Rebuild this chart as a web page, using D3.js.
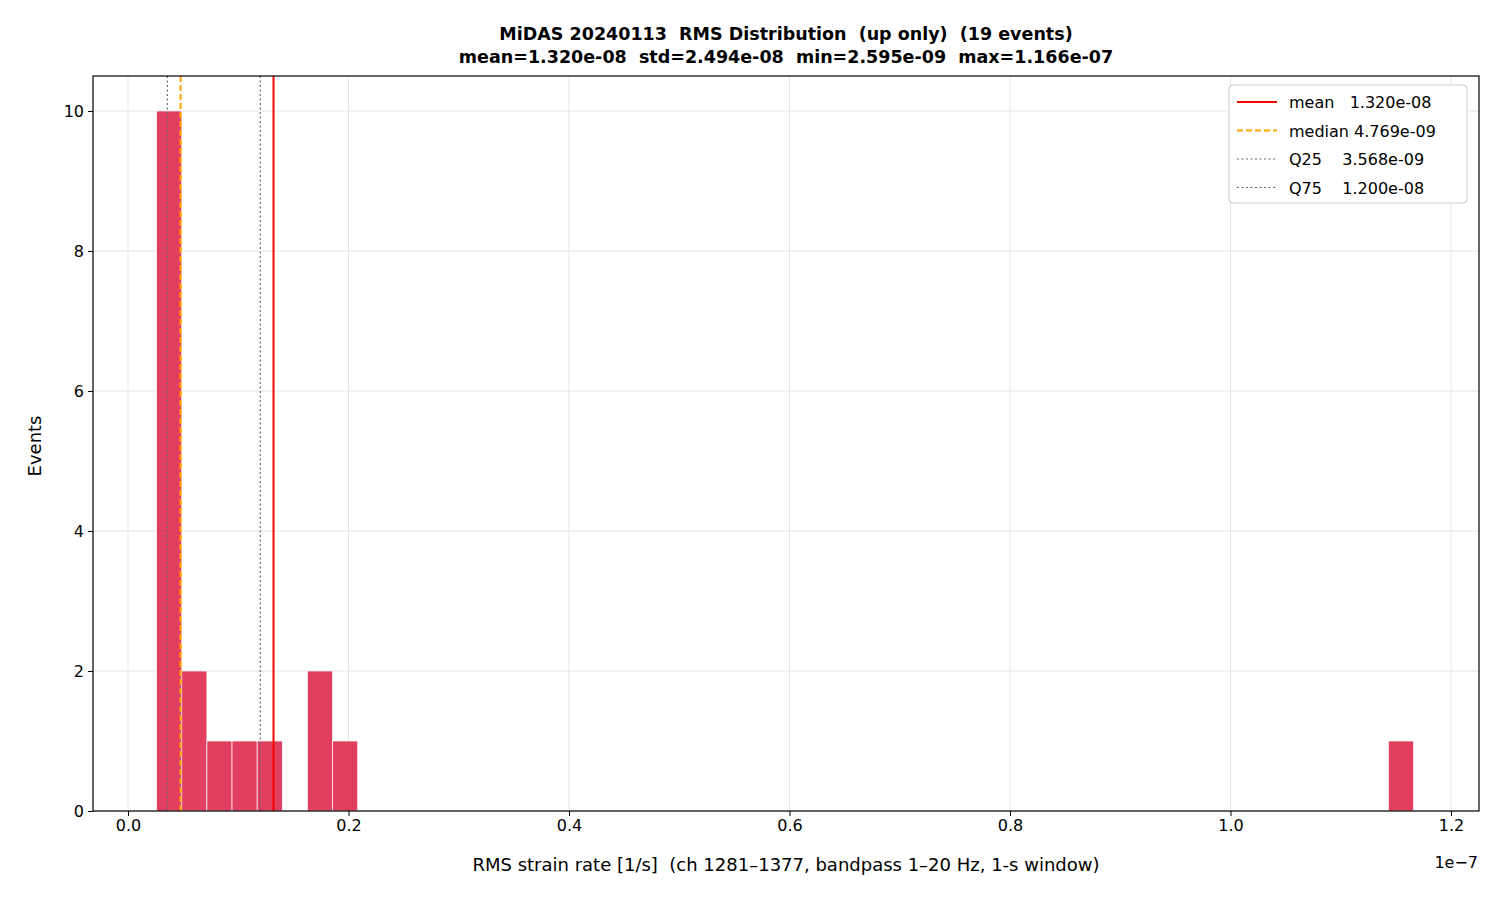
<!DOCTYPE html><html><head><meta charset="utf-8">
<script src="https://cdn.jsdelivr.net/npm/d3@7"></script>
<style>body{margin:0;background:#fff}text{font-family:"DejaVu Sans",sans-serif;white-space:pre}</style></head><body>
<svg id="c" width="1500" height="900"></svg>
<script>
const binStart = 2.595e-9, binEnd = 1.166e-7, nBins = 50;
const binCounts = [10,2,1,1,1,0,2,1].concat(new Array(41).fill(0)).concat([1]);
const xTicks = [0,0.2e-7,0.4e-7,0.6e-7,0.8e-7,1.0e-7,1.2e-7];
const xTickLabels = ["0.0","0.2","0.4","0.6","0.8","1.0","1.2"];
const yTicks = [0,2,4,6,8,10];
const refLines = [
 {name:"mean",label:"mean   1.320e-08",v:1.320e-8,color:"red",dash:null,w:2},
 {name:"median",label:"median 4.769e-09",v:4.769e-9,color:"orange",dash:"6,3",w:2},
 {name:"Q25",label:"Q25    3.568e-09",v:3.568e-9,color:"#666",dash:"2,2.5",w:1.2},
 {name:"Q75",label:"Q75    1.200e-08",v:1.200e-8,color:"#666",dash:"2,2.5",w:1.2}];
const svg=d3.select("#c");
const L=93,R=1479,T=76,B=811;
const x=d3.scaleLinear().domain([-0.3175e-8,12.254e-8]).range([L,R]);
const y=d3.scaleLinear().domain([0,10.5]).range([B,T]);
const g=svg.append("g");
// grid
xTicks.forEach(t=>g.append("line").attr("x1",x(t)).attr("x2",x(t)).attr("y1",T).attr("y2",B).attr("stroke","#e5e5e5"));
yTicks.forEach(t=>g.append("line").attr("x1",L).attr("x2",R).attr("y1",y(t)).attr("y2",y(t)).attr("stroke","#e5e5e5"));
const bw=(binEnd-binStart)/nBins;
g.selectAll("rect.b").data(binCounts.map((c,i)=>({c,i})).filter(d=>d.c>0)).enter().append("rect")
 .attr("x",d=>x(binStart+d.i*bw)).attr("width",d=>x(binStart+(d.i+1)*bw)-x(binStart+d.i*bw))
 .attr("y",d=>y(d.c)).attr("height",d=>y(0)-y(d.c)).attr("fill","#dc143c").attr("fill-opacity",0.82)
 .attr("stroke","#fff").attr("stroke-width",0.7);
refLines.forEach(r=>g.append("line").attr("x1",x(r.v)).attr("x2",x(r.v)).attr("y1",T).attr("y2",B)
 .attr("stroke",r.color).attr("stroke-width",r.w).attr("stroke-dasharray",r.dash));
// axes
const xa=svg.append("g").attr("transform",`translate(0,${B})`).call(d3.axisBottom(x).tickValues(xTicks).tickFormat((d,i)=>xTickLabels[i]).tickSizeOuter(0).tickSize(5).tickPadding(4));
const ya=svg.append("g").attr("transform",`translate(${L},0)`).call(d3.axisLeft(y).tickValues(yTicks).tickSizeOuter(0).tickSize(5).tickPadding(4));
[xa,ya].forEach(a=>{a.selectAll("text").attr("font-size",16).attr("fill","#000");a.select(".domain").remove();});
svg.append("rect").attr("x",L).attr("y",T).attr("width",R-L).attr("height",B-T).attr("fill","none").attr("stroke","#000").attr("stroke-width",1.2);
svg.append("text").attr("x",1478).attr("y",868).attr("text-anchor","end").attr("font-size",16).text("1e−7");
svg.append("text").attr("x",786).attr("y",871).attr("text-anchor","middle").attr("font-size",18).text("RMS strain rate [1/s]  (ch 1281–1377, bandpass 1–20 Hz, 1-s window)");
svg.append("text").attr("transform","translate(41,446) rotate(-90)").attr("text-anchor","middle").attr("font-size",18).text("Events");
svg.append("text").attr("x",786).attr("y",40).attr("text-anchor","middle").attr("font-size",17.5).attr("font-weight","bold").text("MiDAS 20240113  RMS Distribution  (up only)  (19 events)");
svg.append("text").attr("x",786).attr("y",63).attr("text-anchor","middle").attr("font-size",17.5).attr("font-weight","bold").text("mean=1.320e-08  std=2.494e-08  min=2.595e-09  max=1.166e-07");
// legend
const lg=svg.append("g").attr("transform","translate(1229,85)");
lg.append("rect").attr("width",238).attr("height",118).attr("rx",4).attr("fill","#fff").attr("fill-opacity",0.8).attr("stroke","#ccc");
refLines.forEach((r,i)=>{const yy=17+i*28.5;
 lg.append("line").attr("x1",8).attr("x2",48).attr("y1",yy).attr("y2",yy).attr("stroke",r.color).attr("stroke-width",r.w).attr("stroke-dasharray",r.dash);
 lg.append("text").attr("x",60).attr("y",yy+6).attr("font-size",16).text(r.label);});
</script></body></html>
